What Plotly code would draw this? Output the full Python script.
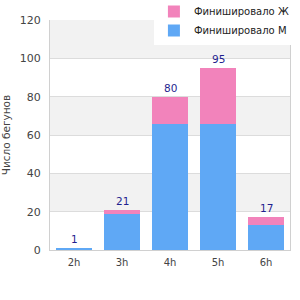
import plotly.graph_objects as go

categories = ["2h", "3h", "4h", "5h", "6h"]
finished_m = [1, 19, 66, 66, 13]
finished_f = [0, 2, 14, 29, 4]
y_ticks = [0, 20, 40, 60, 80, 100, 120]

totals = [m + f for m, f in zip(finished_m, finished_f)]

blue = "#5fa8f5"
pink = "#f283bb"
font = "DejaVu Sans"

fig = go.Figure()
fig.add_trace(go.Bar(x=categories, y=finished_m, name="Финишировало М",
                     marker=dict(color=blue, line=dict(width=0))))
fig.add_trace(go.Bar(x=categories, y=finished_f, name="Финишировало Ж",
                     marker=dict(color=pink, line=dict(width=0))))

for c, t in zip(categories, totals):
    fig.add_annotation(x=c, y=t, text=str(t), showarrow=False, yanchor="bottom",
                       yshift=1, font=dict(family=font, size=10.5, color="#1f1f8f"))

# alternating background bands
for i in range(len(y_ticks) - 1):
    if i % 2 == 1:
        fig.add_shape(type="rect", xref="paper", yref="y", x0=0, x1=1,
                      y0=y_ticks[i], y1=y_ticks[i + 1], fillcolor="#f2f2f2",
                      line=dict(width=0), layer="below")

fig.update_layout(
    width=300, height=300,
    margin=dict(l=50, r=10, t=20, b=50, autoexpand=False),
    barmode="stack", bargap=0.27,
    plot_bgcolor="white", paper_bgcolor="white",
    font=dict(family=font, size=10, color="#444"),
    showlegend=True,
    legend=dict(xref="paper", yref="paper", x=0.433, y=1.1, xanchor="left", yanchor="top",
                bgcolor="white", font=dict(family=font, size=10, color="#222"),
                traceorder="reversed", itemwidth=30, tracegroupgap=0),
    xaxis=dict(showgrid=False, showline=True, linecolor="#d0d0d0", linewidth=1,
               tickfont=dict(family=font, size=10, color="#444"), ticks="",
               ticklabelstandoff=3, fixedrange=True),
    yaxis=dict(range=[0, 120], tickvals=y_ticks, showgrid=True, gridcolor="#dcdcdc",
               zeroline=False, showline=True, mirror=True, linecolor="#d0d0d0",
               tickfont=dict(family=font, size=11, color="#444"),
               ticklabelstandoff=6,
               title=dict(text="Число бегунов", font=dict(family=font, size=10.5, color="#444"), standoff=10),
               ticks=""),
)

fig.write_html("out.html")
